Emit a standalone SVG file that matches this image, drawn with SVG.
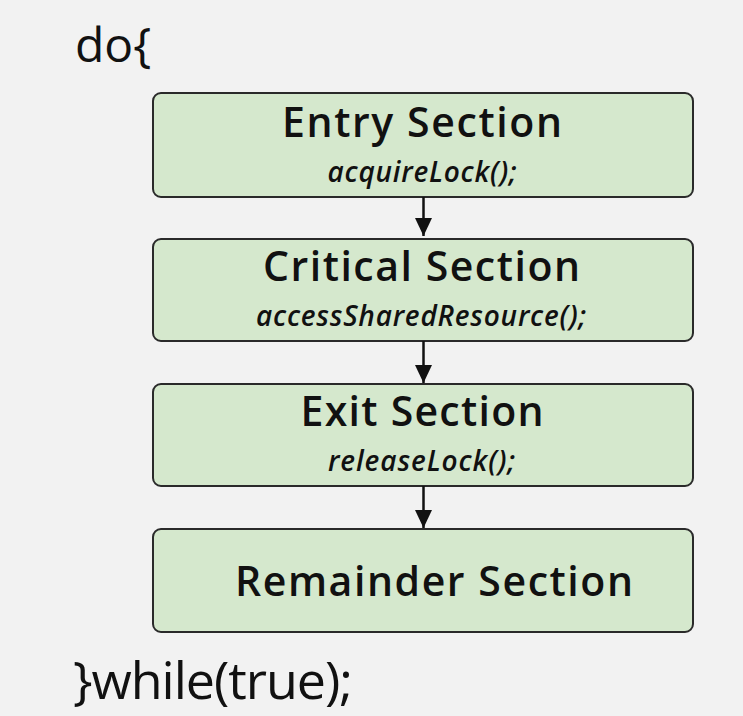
<svg xmlns="http://www.w3.org/2000/svg" width="743" height="716" viewBox="0 0 743 716">
<defs>
<style>
.bg{fill:#f2f2f2}
.box{fill:#d5e8cd;stroke:#2a2a2a;stroke-width:2}
.t{font-family:"Open Sans","Noto Sans",sans-serif;fill:#111;text-anchor:middle}
.h{font-size:41px;font-weight:600}
.s{font-size:28px;font-style:italic;font-weight:600}
.code{font-family:"Open Sans","Noto Sans",sans-serif;fill:#111}
.conn line{stroke:#111;stroke-width:2.5}
</style>
<marker id="ah" viewBox="0 0 18 17" refX="18" refY="8.5" markerWidth="18" markerHeight="17" markerUnits="userSpaceOnUse" orient="auto">
<path d="M0,0 L18,8.5 L0,17 z" fill="#111"/>
</marker>
</defs>
<rect class="bg" x="0" y="0" width="743" height="716"/>
<text class="code" x="75" y="62" font-size="48">do{</text>
<g id="entry">
<rect class="box" x="153" y="93" width="540" height="104" rx="8"/>
<text class="t h" x="422" y="137" textLength="280">Entry Section</text>
<text class="t s" x="422" y="182" textLength="189">acquireLock();</text>
</g>
<g id="critical">
<rect class="box" x="153" y="239" width="540" height="102" rx="8"/>
<text class="t h" x="421.5" y="281" textLength="317">Critical Section</text>
<text class="t s" x="421" y="326" textLength="330">accessSharedResource();</text>
</g>
<g id="exit">
<rect class="box" x="153" y="384" width="540" height="102" rx="8"/>
<text class="t h" x="422" y="426" textLength="243">Exit Section</text>
<text class="t s" x="421.5" y="471" textLength="187">releaseLock();</text>
</g>
<g id="remainder">
<rect class="box" x="153" y="529" width="540" height="103" rx="8"/>
<text class="t h" x="434" y="596" textLength="398">Remainder Section</text>
</g>
<g id="connectors" class="conn">
<line x1="423.5" y1="197" x2="423.5" y2="236" marker-end="url(#ah)"/>
<line x1="423.5" y1="341" x2="423.5" y2="383" marker-end="url(#ah)"/>
<line x1="423.5" y1="486" x2="423.5" y2="528" marker-end="url(#ah)"/>
</g>
<text class="code" x="73" y="699" font-size="52" textLength="280">}while(true);</text>
</svg>
